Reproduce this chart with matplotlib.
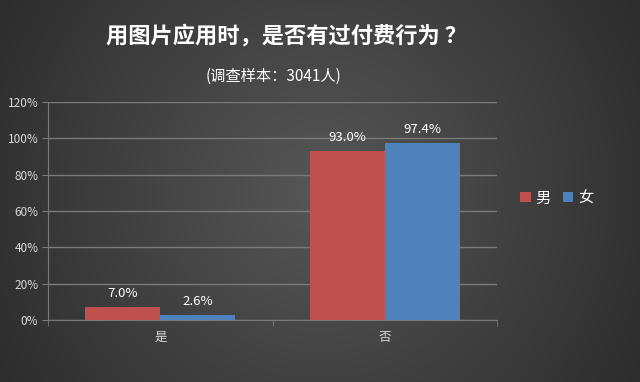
import numpy as np
import matplotlib.pyplot as plt

plt.rcParams['font.family'] = ['Noto Sans CJK SC', 'DejaVu Sans']

categories = ["是", "否"]
male = [7.0, 93.0]
female = [2.6, 97.4]
series_names = ["男", "女"]
yticks = [0, 20, 40, 60, 80, 100, 120]

red = "#C0504D"
blue = "#4F81BD"
txt = "#D9D9D9"
grid_c = "#7A7A7A"

fig = plt.figure(figsize=(6.4, 3.82), dpi=100)

# background: dark gray, lighter toward the middle
bg = fig.add_axes([0, 0, 1, 1], zorder=-10)
gx = np.linspace(-1, 1, 640)
gy = np.linspace(-1, 1, 382)
X, Y = np.meshgrid(gx, gy)
r = np.sqrt((X * 0.95) ** 2 + (Y * 0.55) ** 2)
shade = 0.34 - 0.15 * np.clip(r, 0, 1.3)
bg.imshow(np.dstack([shade] * 3), aspect="auto", extent=[0, 1, 0, 1])
bg.set_axis_off()

ax = fig.add_axes([0.075, 0.162, 0.702, 0.571])
ax.set_facecolor("none")

x = np.arange(len(categories))
w = 0.334
b1 = ax.bar(x - w / 2, male, w, color=red, label=series_names[0], zorder=3)
b2 = ax.bar(x + w / 2, female, w, color=blue, label=series_names[1], zorder=3)

for bars, vals in ((b1, male), (b2, female)):
    for rect, v in zip(bars, vals):
        ax.annotate(f"{v:.1f}%", (rect.get_x() + rect.get_width() / 2, v),
                    xytext=(0, 5), textcoords="offset points",
                    ha="center", va="bottom", color="white", fontsize=9.5)

ax.set_xlim(-0.5, 1.5)
ax.set_ylim(0, 120)
ax.set_yticks(yticks)
ax.set_yticklabels([f"{t}%" for t in yticks])
ax.yaxis.grid(True, color=grid_c, linewidth=1)
ax.set_axisbelow(True)

ax.set_xticks(x)
ax.set_xticklabels(categories)
ax.set_xticks([-0.5, 0.5, 1.5], minor=True)
ax.tick_params(axis="x", which="major", length=0, pad=8, colors=txt, labelsize=9)
ax.tick_params(axis="x", which="minor", length=4, color=grid_c)
ax.tick_params(axis="y", length=4, color=grid_c, colors=txt, labelsize=8.5, pad=3)

for s in ("top", "right"):
    ax.spines[s].set_visible(False)
for s in ("left", "bottom"):
    ax.spines[s].set_color(grid_c)

leg = ax.legend(loc="center left", bbox_to_anchor=(1.02, 0.56), ncol=2,
                frameon=False, fontsize=11, handlelength=0.7, handleheight=0.7,
                handletextpad=0.3, columnspacing=0.8)
for t in leg.get_texts():
    t.set_color("white")

fig.text(0.448, 0.905, "用图片应用时，是否有过付费行为 ？", ha="center", va="center",
         color="white", fontsize=16, fontweight="bold")
fig.text(0.427, 0.80, "(调查样本：3041人)", ha="center", va="center",
         color="white", fontsize=11)

fig.savefig("out.png", dpi=100)
